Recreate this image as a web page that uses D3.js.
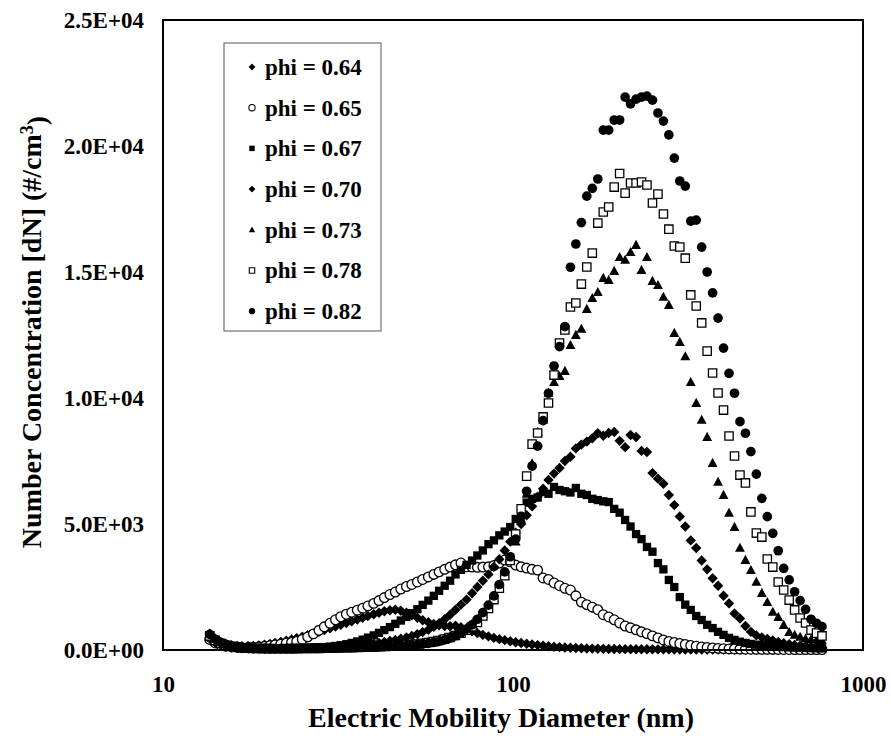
<!DOCTYPE html>
<html>
<head>
<meta charset="utf-8">
<script src="https://cdn.jsdelivr.net/npm/d3@7"></script>
<style>
  html, body { margin: 0; padding: 0; background: #fff; }
  svg { display: block; }
  text { font-family: "Liberation Serif", "Times New Roman", serif; font-weight: bold; fill: #000; }
</style>
</head>
<body>
<div id="chart"></div>
<script>
// ---------------- DATA ----------------
const diameters = [
  13.6, 14.1, 14.6, 15.1, 15.7, 16.3, 16.8, 17.5, 18.1, 18.8,
  19.5, 20.2, 20.9, 21.7, 22.5, 23.3, 24.1, 25.0, 25.9, 26.9,
  27.9, 28.9, 30.0, 31.1, 32.2, 33.4, 34.6, 35.9, 37.2, 38.5,
  40.0, 41.4, 42.9, 44.5, 46.1, 47.8, 49.6, 51.4, 53.3, 55.2,
  57.3, 59.4, 61.5, 63.8, 66.1, 68.5, 71.0, 73.7, 76.4, 79.1,
  82.0, 85.1, 88.2, 91.4, 94.7, 98.2, 101.8, 105.5, 109.4, 113.4,
  117.6, 121.9, 126.3, 131.0, 135.8, 140.7, 145.9, 151.2, 156.8, 162.5,
  168.5, 174.7, 181.1, 187.7, 194.6, 201.7, 209.1, 216.7, 224.7, 232.9,
  241.4, 250.3, 259.5, 269.0, 278.8, 289.0, 299.6, 310.6, 322.0, 333.8,
  346.0, 358.7, 371.8, 385.4, 399.5, 414.2, 429.4, 445.1, 461.4, 478.3,
  495.8, 514.0, 532.8, 552.3, 572.5, 593.5, 615.3, 637.8, 661.2, 685.4,
  710.5, 736.5, 763.5
];

const phi064 = [
  650, 450, 320, 240, 190, 160, 150, 150, 160, 180,
  210, 240, 280, 320, 370, 420, 470, 530, 590, 650,
  720, 790, 860, 930, 1000, 1070, 1140, 1210, 1280, 1350,
  1420, 1480, 1540, 1580, 1600, 1560, 1480, 1380, 1280, 1180,
  1100, 1030, 980, 950, 940, 960, 900, 820, 740, 670,
  600, 540, 480, 430, 390, 350, 310, 280, 250, 220,
  195, 170, 150, 130, 115, 100, 88, 78, 70, 62,
  56, 50, 45, 41, 38, 35, 33, 31, 29, 28,
  27, 26, 25, 24, 23, 22, 21, 20, 20, 19,
  19, 18, 18, 17, 17, 16, 16, 15, 15, 15,
  14, 14, 14, 13, 13, 13, 12, 12, 12, 12,
  11, 11, 11
];

const phi065 = [
  420, 280, 200, 150, 120, 100, 95, 100, 110, 125,
  145, 170, 200, 235, 270, 300, 340, 420, 520, 640,
  780, 920, 1060, 1200, 1320, 1420, 1500, 1580, 1660, 1750,
  1850, 1960, 2080, 2200, 2300, 2420, 2520, 2600, 2700, 2800,
  2900, 3000, 3100, 3200, 3290, 3380, 3450, 3300, 3290, 3280,
  3290, 3300, 3350, 3450, 3570, 3500, 3370, 3300, 3250, 3200,
  3170, 2860, 2800, 2660, 2550, 2450, 2380, 2150, 1900, 1800,
  1700, 1600, 1400, 1310, 1200, 1070, 950, 880, 800, 720,
  650, 560, 480, 400, 340, 300, 260, 220, 180, 150,
  120, 100, 80, 65, 55, 45, 40, 35, 32, 30,
  28, 26, 25, 24, 23, 22, 21, 20, 19, 18,
  18, 17, 17
];

const phi067 = [
  520, 350, 250, 180, 130, 100, 80, 68, 60, 56,
  54, 53, 53, 55, 58, 62, 67, 73, 80, 90,
  100, 115, 135, 160, 190, 230, 280, 340, 410, 490,
  580, 680, 790, 910, 1040, 1170, 1310, 1460, 1620, 1790,
  1960, 2150, 2350, 2550, 2750, 3000, 3180, 3380, 3550, 3750,
  3950, 4200, 4350, 4550, 4700, 4880, 5200, 5600, 5850, 6000,
  6050, 6270, 6200, 6470, 6350, 6300, 6250, 6430, 6200, 6150,
  6000, 5950, 5900, 5870, 5600, 5450, 5160, 4900, 4600, 4400,
  4090, 3900, 3450, 3200, 2780, 2500, 2100, 1800, 1590, 1350,
  1190, 1000, 870, 720, 600, 480, 400, 330, 280, 240,
  210, 185, 165, 145, 130, 115, 105, 95, 85, 80,
  75, 70, 65
];

const phi070 = [
  450, 300, 210, 150, 110, 85, 68, 58, 52, 48,
  46, 45, 45, 46, 48, 50, 53, 56, 60, 64,
  70, 78, 88, 100, 115, 132, 152, 175, 200, 225,
  250, 280, 320, 360, 400, 450, 500, 560, 630, 710,
  800, 920, 1060, 1220, 1400, 1600, 1800, 2000, 2250, 2500,
  2750, 3000, 3300, 3600, 3950, 4300, 4650, 5000, 5350, 5700,
  6080, 6400, 6750, 7000, 7220, 7500, 7670, 8000, 8150, 8270,
  8400, 8600, 8500, 8610, 8650, 8300, 8050, 8530, 8450, 7900,
  7860, 7020, 6800, 6600, 6150, 5750, 5300, 4900, 4350, 4050,
  3550, 3200, 2850, 2550, 2150, 1850, 1450, 1250, 950, 720,
  580, 500, 440, 380, 320, 270, 230, 200, 170, 150,
  130, 110, 100
];

const phi073 = [
  500, 340, 240, 180, 135, 105, 85, 70, 62, 58,
  55, 53, 52, 52, 53, 55, 57, 60, 63, 66,
  70, 74, 78, 83, 88, 94, 100, 107, 115, 124,
  134, 145, 157, 170, 185, 202, 222, 245, 272, 303,
  338, 380, 430, 490, 560, 645, 750, 880, 1030, 1210,
  1430, 1700, 2030, 2450, 2950, 3550, 4300, 5200, 6200, 7400,
  8650, 9130, 10200, 10630, 10870, 11070, 12100, 12500, 12740, 13530,
  13960, 14200, 14760, 14680, 15040, 15590, 15480, 15790, 16070, 15080,
  15590, 14640, 14480, 14010, 13690, 12580, 12220, 11650, 10630, 9800,
  9130, 8450, 7420, 6670, 6150, 5440, 4880, 4050, 3570, 3170,
  2700, 2260, 1900, 1510, 1310, 990, 710, 600, 520, 450,
  420, 400, 380
];

const phi078 = [
  560, 380, 270, 200, 150, 115, 90, 75, 65, 60,
  56, 54, 52, 52, 53, 54, 56, 58, 60, 63,
  66, 70, 74, 78, 83, 88, 94, 100, 107, 115,
  123, 132, 142, 153, 166, 180, 197, 216, 240, 266,
  296, 333, 378, 432, 497, 575, 670, 785, 925, 1090,
  1350, 1650, 2000, 2450, 2950, 3550, 4600, 5600, 6900, 8170,
  8610, 9250, 9800, 10910, 12180, 12700, 13610, 13770, 14520, 15200,
  15750, 16940, 17380, 17580, 18370, 18910, 18130, 18530, 18530, 18570,
  18450, 17740, 18090, 17300, 16700, 16030, 15990, 15550, 14090, 13650,
  12980, 11860, 10990, 10200, 9520, 8490, 7700, 6940, 6630, 5480,
  4640, 4480, 3610, 3290, 2700, 2380, 1980, 1590, 1270, 1070,
  790, 670, 560
];

const phi082 = [
  620, 420, 300, 220, 170, 130, 100, 85, 75, 70,
  65, 62, 60, 60, 60, 62, 64, 66, 70, 72,
  75, 78, 80, 84, 88, 92, 96, 100, 106, 112,
  118, 125, 132, 140, 150, 162, 175, 192, 212, 236,
  264, 300, 345, 400, 470, 560, 680, 830, 1000, 1220,
  1480, 1780, 2150, 2600, 3100, 3700, 4400, 5300, 6300, 7300,
  8090, 9100, 10190, 11270, 12040, 12830, 15190, 16110, 16960, 18010,
  18320, 18690, 20630, 20630, 21030, 21030, 21940, 21670, 21860, 21940,
  21980, 21820, 21310, 20990, 20440, 19520, 18610, 18410, 17020, 17060,
  15990, 15000, 14170, 13170, 11980, 10980, 10190, 9060, 8600, 7870,
  6980, 6020, 5290, 4630, 3940, 3240, 2780, 2310, 1960, 1610,
  1220, 1060, 925
];

const seriesLabels = ["phi = 0.64", "phi = 0.65", "phi = 0.67", "phi = 0.70", "phi = 0.73", "phi = 0.78", "phi = 0.82"];
const seriesValues = [phi064, phi065, phi067, phi070, phi073, phi078, phi082];
const seriesMarkers = ["diamond", "openCircle", "square", "diamond", "triangle", "openSquare", "circle"];

const xTicks = [10, 100, 1000];
const xTickLabels = ["10", "100", "1000"];
const yTicks = [0, 5000, 10000, 15000, 20000, 25000];
const yTickLabels = ["0.0E+00", "5.0E+03", "1.0E+04", "1.5E+04", "2.0E+04", "2.5E+04"];

const xTitle = "Electric Mobility Diameter (nm)";
const yTitle = "Number Concentration [dN]  (#/cm";

// ---------------- LAYOUT ----------------
const W = 891, H = 736;
const plot = { left: 163, right: 863, top: 20, bottom: 650 };

const svg = d3.select("#chart").append("svg").attr("width", W).attr("height", H);

const x = d3.scaleLog().domain([10, 1000]).range([plot.left, plot.right]);
const y = d3.scaleLinear().domain([0, 25000]).range([plot.bottom, plot.top]);

function markerPath(type, s) {
  switch (type) {
    case "diamond": return `M0,${-s}L${s},0L0,${s}L${-s},0Z`;
    case "square": case "openSquare": return `M${-s*0.8},${-s*0.8}H${s*0.8}V${s*0.8}H${-s*0.8}Z`;
    case "triangle": return `M0,${-s}L${s*0.95},${s*0.75}L${-s*0.95},${s*0.75}Z`;
    case "circle": case "openCircle": {
      const r = s * 0.93;
      return `M${r},0A${r},${r} 0 1,1 ${-r},0A${r},${r} 0 1,1 ${r},0Z`;
    }
  }
}
function markerStyle(sel, type) {
  if (type === "openCircle" || type === "openSquare") {
    sel.attr("fill", "#fff").attr("stroke", "#000").attr("stroke-width", 1.3);
  } else {
    sel.attr("fill", "#000").attr("stroke", "none");
  }
}

const yAxis = d3.axisLeft(y).tickValues(yTicks).tickSize(0).tickPadding(19)
  .tickFormat((d, i) => yTickLabels[i]);
const xAxis = d3.axisBottom(x).tickValues(xTicks).tickSize(0).tickPadding(26)
  .tickFormat((d, i) => xTickLabels[i]);

const gy = svg.append("g").attr("transform", `translate(${plot.left},0)`).call(yAxis);
const gx = svg.append("g").attr("transform", `translate(0,${plot.bottom})`).call(xAxis);
[gx, gy].forEach(g => {
  g.select(".domain").remove();
  g.selectAll("text").style("font-size", "23px").style("font-family", '"Liberation Serif", "Times New Roman", serif').style("font-weight", "bold");
});

const dataG = svg.append("g");
seriesValues.forEach((vals, si) => {
  const type = seriesMarkers[si];
  const pts = dataG.append("g").selectAll("path")
    .data(vals.map((v, i) => [diameters[i], v]))
    .join("path")
    .attr("d", markerPath(type, 5.2))
    .attr("transform", d => `translate(${x(d[0])},${y(d[1])})`);
  markerStyle(pts, type);
});

svg.append("rect")
  .attr("x", plot.left).attr("y", plot.top)
  .attr("width", plot.right - plot.left).attr("height", plot.bottom - plot.top)
  .attr("fill", "none").attr("stroke", "#000").attr("stroke-width", 2);

const lg = { x: 224, y: 43, w: 157, h: 288 };
svg.append("rect").attr("x", lg.x).attr("y", lg.y).attr("width", lg.w).attr("height", lg.h)
  .attr("fill", "#fff").attr("stroke", "#555").attr("stroke-width", 1);
seriesLabels.forEach((lab, i) => {
  const cy = 67 + i * 40.7;
  const m = svg.append("path").attr("d", markerPath(seriesMarkers[i], 3.4))
    .attr("transform", `translate(252,${cy})`);
  markerStyle(m, seriesMarkers[i]);
  if (seriesMarkers[i].startsWith("open")) m.attr("stroke-width", 1.1);
  svg.append("text").attr("x", 265).attr("y", cy).attr("dy", "0.34em")
    .style("font-size", "23px").text(lab);
});

svg.append("text").attr("x", (plot.left + plot.right) / 2 - 12).attr("y", 727)
  .attr("text-anchor", "middle").style("font-size", "28px").text(xTitle);

const yt = svg.append("text")
  .attr("transform", `translate(41,332) rotate(-90)`)
  .attr("text-anchor", "middle").style("font-size", "28px");
yt.append("tspan").text(yTitle);
yt.append("tspan").attr("dy", "-0.45em").style("font-size", "18px").text("3");
yt.append("tspan").attr("dy", "0.45em").text(")");
</script>
</body>
</html>
